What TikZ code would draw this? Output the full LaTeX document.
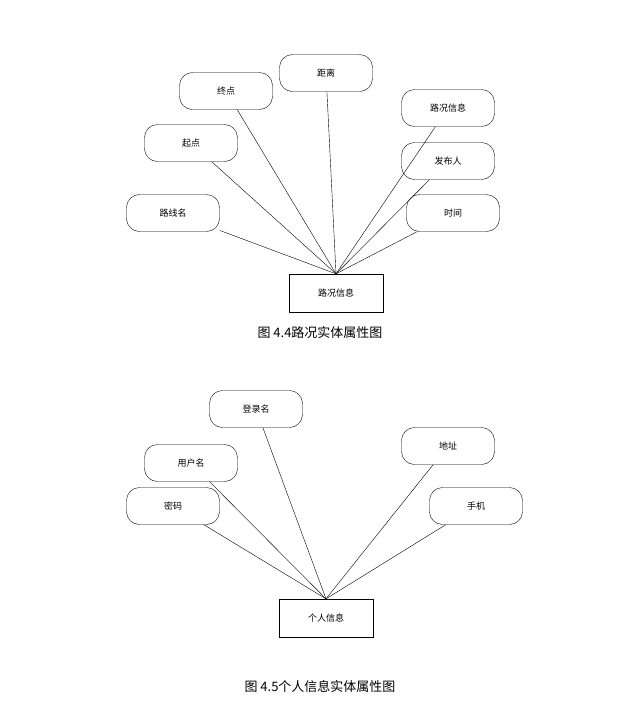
\documentclass[tikz,border=0pt]{standalone}
\usepackage{fontspec}
\newfontfamily\cjk{Noto Sans CJK SC}
\begin{document}
\begin{tikzpicture}
[x=1pt,y=-1pt,
attr/.style={rectangle,draw=black,thin,rounded corners=13pt,minimum width=93pt,minimum height=37pt,font=\cjk\fontsize{9}{10}\selectfont},
enti/.style={rectangle,draw=black,thin,minimum width=94pt,minimum height=38pt,font=\cjk\fontsize{9}{10}\selectfont},
capt/.style={font=\cjk\fontsize{13}{15}\selectfont}]
\useasboundingbox (0,0) rectangle (637,716);

% top diagram
\node at (336,293) [enti] (road)   {路况信息};
\node at (226,91)  [attr] (endp)   {终点};
\node at (326,73)  [attr] (dist)   {距离};
\node at (448,108) [attr] (info)   {路况信息};
\node at (191,143) [attr] (start)  {起点};
\node at (448,161) [attr] (pub)    {发布人};
\node at (173,213) [attr] (rname)  {路线名};
\node at (453,213) [attr] (time)   {时间};
\foreach \a in {endp,dist,info,start,pub,rname,time}
  \draw (\a) -- (road.north);
\node at (320,333) [capt] (cap1) {图 4.4路况实体属性图};

% bottom diagram
\node at (326,618) [enti] (user)   {个人信息};
\node at (256,409) [attr] (login)  {登录名};
\node at (191,463) [attr] (uname)  {用户名};
\node at (448,446) [attr] (addr)   {地址};
\node at (173,506) [attr] (pwd)    {密码};
\node at (476,506) [attr] (phone)  {手机};
\foreach \a in {login,uname,addr,pwd,phone}
  \draw (\a) -- (user.north);
\node at (320,687) [capt] (cap2) {图 4.5个人信息实体属性图};
\end{tikzpicture}
\end{document}
